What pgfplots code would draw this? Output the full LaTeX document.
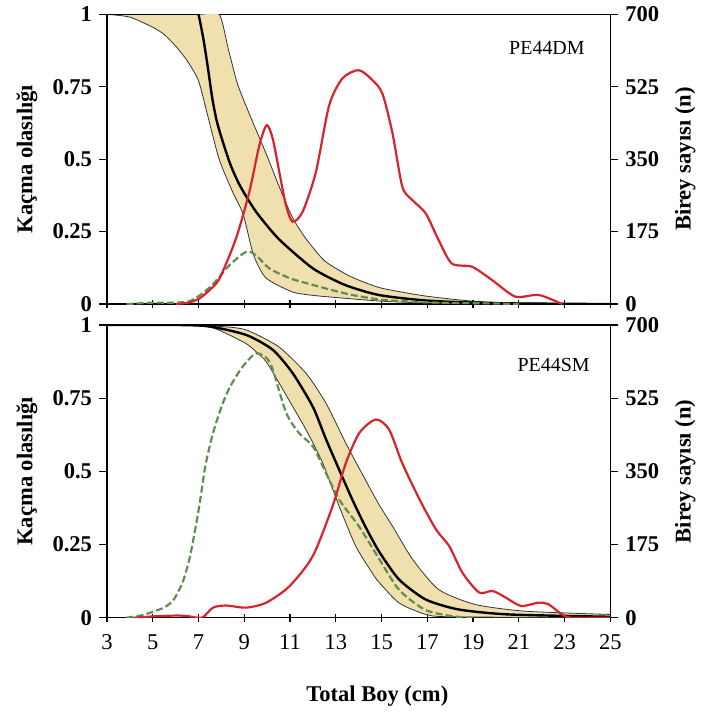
\documentclass[border=0pt]{standalone}
\usepackage{fontspec}
\setmainfont{Liberation Serif}
\usepackage{pgfplots}
\pgfplotsset{compat=1.18}
\usepgfplotslibrary{fillbetween}

\definecolor{band}{RGB}{239,224,174}
\definecolor{dist}{RGB}{215,35,45}
\definecolor{olivegr}{RGB}{100,140,80}

\pgfplotsset{
  panel/.style={
    scale only axis, width=252.2pt,
    xmin=3, xmax=25, xtick={3,5,...,25},
    axis line style={line width=0.6pt},
    tick style={black, line width=0.6pt},
    major tick length=4pt,
    xtick align=center, ytick align=outside,
    /pgf/number format/assume math mode=true,
    font=\fontsize{11.3}{13}\selectfont,
    yticklabel style={font=\fontsize{11.3}{13}\selectfont\bfseries},
    xticklabel style={yshift=-3pt},
    clip=true,
  },
  prob/.style={panel, set layers,
    ymin=0, ymax=1, ytick={0,0.25,0.5,0.75,1},
    yticklabels={0,0.25,0.5,0.75,1},
    xtick pos=bottom, ytick pos=left,
    every axis y label/.style={at={(axis description cs:-0.159,0.5)},rotate=90,anchor=center,
      font=\fontsize{11.3}{13}\selectfont\bfseries},
    ylabel={Kaçma olasılığı},
  },
  count/.style={panel,
    axis x line=none, axis y line*=right,
    ymin=0, ymax=700, ytick={0,175,350,525,700},
    every axis y label/.style={at={(axis description cs:1.149,0.5)},rotate=90,anchor=center,
      font=\fontsize{11.3}{13}\selectfont\bfseries},
    ylabel={Birey sayısı (n)},
  },
  edge/.style={line width=0.4pt, black!80, smooth, tension=0.4},
  fit/.style={line width=1.2pt, black, smooth, tension=0.4},
  obs/.style={line width=1.1pt, dist, smooth, tension=0.45},
  cover/.style={line width=1.1pt, olivegr, dash pattern=on 3.5pt off 1.6pt, smooth, tension=0.45},
}

\begin{document}
\begin{tikzpicture}

% ---------- PE44DM (top) ----------
\begin{axis}[prob, at={(53.65pt,204.5pt)}, height=145.25pt, xticklabels={}]
  \addplot[edge, name path=up1] coordinates {
    (3,1) (7,1) (7.9,1) (8.3,0.88) (8.7,0.76) (9.2,0.66) (9.6,0.585) (10.0,0.51)
    (10.5,0.41) (11.1,0.30) (11.7,0.225) (12.5,0.15) (13.4,0.105) (14.0,0.083)
    (15.0,0.055) (16.9,0.028) (19,0.01) (21,0.004) (25,0.001)};
  \addplot[edge, name path=lo1] coordinates {
    (3,1) (4,0.99) (5,0.955) (5.5,0.93) (6,0.89) (6.5,0.84) (7,0.77) (7.4,0.65)
    (7.9,0.50) (8.5,0.385) (8.95,0.31) (9.4,0.17) (9.95,0.09) (11.1,0.042)
    (12,0.03) (13.4,0.02) (15,0.01) (17,0.004) (20,0.001) (25,0)};
  \addplot[band] fill between[of=up1 and lo1];
  % fitted curve: flat part (clipped at 1), then the falling part
  \addplot[fit, sharp plot] coordinates {(3,1) (7.0,1)};
  \addplot[fit] coordinates {
    (7.0,1) (7.2,0.92) (7.4,0.82) (7.6,0.71) (7.8,0.63) (8.06,0.56)
    (8.4,0.48) (8.8,0.41) (9.5,0.32) (10.5,0.225) (12,0.123) (13.4,0.066)
    (14.9,0.031) (17,0.012) (20,0.003) (25,0)};
  \addplot[cover] coordinates {
    (3.85,0) (4.5,0.003) (5,0.005) (6,0.005) (6.6,0.01) (7.05,0.03) (7.6,0.066)
    (8.35,0.134) (9.08,0.18) (9.5,0.169) (10.1,0.123) (11.0,0.089) (12,0.066)
    (13.4,0.037) (14.9,0.016) (17,0.006) (20,0.002) (21,0)};
  \node[anchor=east, font=\fontsize{10}{12}\selectfont] at (rel axis cs:0.963,0.885) {PE44DM};
\end{axis}
\begin{axis}[count, at={(53.65pt,204.5pt)}, height=145.25pt]
  \addplot[obs] coordinates {
    (6.0,0) (6.6,4) (7.05,14) (7.5,35) (7.92,62) (8.64,159) (9.22,271) (9.66,384)
    (9.98,432) (10.24,400) (10.53,319) (10.82,239) (11.11,199) (11.55,223)
    (12.13,319) (12.71,480) (13.29,545) (14.0,565) (14.6,541) (15.04,508)
    (15.48,412) (15.91,283) (16.35,251) (16.93,219) (17.5,154) (18.07,98)
    (18.96,90) (19.83,58) (20.85,18) (21.87,22) (22.9,0)};
\end{axis}

% ---------- PE44SM (bottom) ----------
\begin{axis}[prob, at={(53.65pt,47.35pt)}, height=146.65pt,
    every axis x label/.style={at={(axis description cs:0.537,-0.268)},anchor=center,
      font=\fontsize{11.3}{13}\selectfont\bfseries},
    xlabel={Total Boy (cm)}]
  \addplot[edge, name path=up2] coordinates {
    (3,1) (6.2,1) (8,0.995) (9.09,0.983) (10.5,0.926) (11.7,0.835) (12.57,0.733)
    (13.44,0.596) (14.3,0.47) (14.9,0.385) (15.5,0.31) (16.35,0.20) (17.5,0.096)
    (19.1,0.045) (21.3,0.022) (25,0.011)};
  \addplot[edge, name path=lo2] coordinates {
    (3,1) (6.2,1) (7.63,0.99) (9.0,0.94) (9.5,0.91) (10.0,0.87) (10.83,0.76)
    (11.7,0.642) (12.43,0.528) (13.15,0.38) (13.88,0.243) (14.6,0.152) (14.9,0.12)
    (15.77,0.05) (16.9,0.012) (18,0.003) (25,0)};
  \addplot[band] fill between[of=up2 and lo2];
  \addplot[fit] coordinates {
    (3,1) (6.2,1) (7.5,0.995) (9.09,0.966) (10.25,0.915) (11.12,0.835) (12.0,0.72)
    (12.57,0.61) (13.15,0.505) (13.73,0.402) (14.3,0.31) (14.9,0.225) (15.77,0.13)
    (16.93,0.062) (18.37,0.028) (20.55,0.011) (25,0.003)};
  \addplot[cover] coordinates {
    (3.85,0) (4.5,0.008) (5,0.02) (5.5,0.035) (5.9,0.06) (6.3,0.12) (6.6,0.2)
    (6.85,0.3) (7.05,0.39) (7.3,0.52) (7.63,0.63) (8.0,0.72) (8.35,0.785)
    (8.9,0.855) (9.5,0.903) (10.0,0.885) (10.25,0.846) (10.83,0.70) (11.4,0.63)
    (12.0,0.585) (12.57,0.494) (13.15,0.403) (14.03,0.31) (14.9,0.2) (15.77,0.095)
    (16.9,0.027) (18.1,0.005) (19,0)};
  \node[anchor=east, font=\fontsize{10}{12}\selectfont] at (rel axis cs:0.973,0.864) {PE44SM};
\end{axis}
\begin{axis}[count, at={(53.65pt,47.35pt)}, height=146.65pt]
  \addplot[obs] coordinates {
    (4.2,0) (5,3) (6,5) (6.5,4) (7.15,0) (7.63,24) (8.2,29) (9.09,24) (9.96,36)
    (10.97,75) (11.99,147) (12.86,267) (13.44,370) (14.03,442) (14.75,474)
    (15.33,450) (15.9,370) (16.66,283) (17.38,211) (17.96,171) (18.54,107)
    (19.27,60) (19.85,64) (20.43,48) (21.1,28) (21.87,36) (22.3,32) (22.88,8)
    (23.3,0) (25,0)};
\end{axis}
\path (0,0) rectangle (352pt,356.5pt);
\end{tikzpicture}
\end{document}
